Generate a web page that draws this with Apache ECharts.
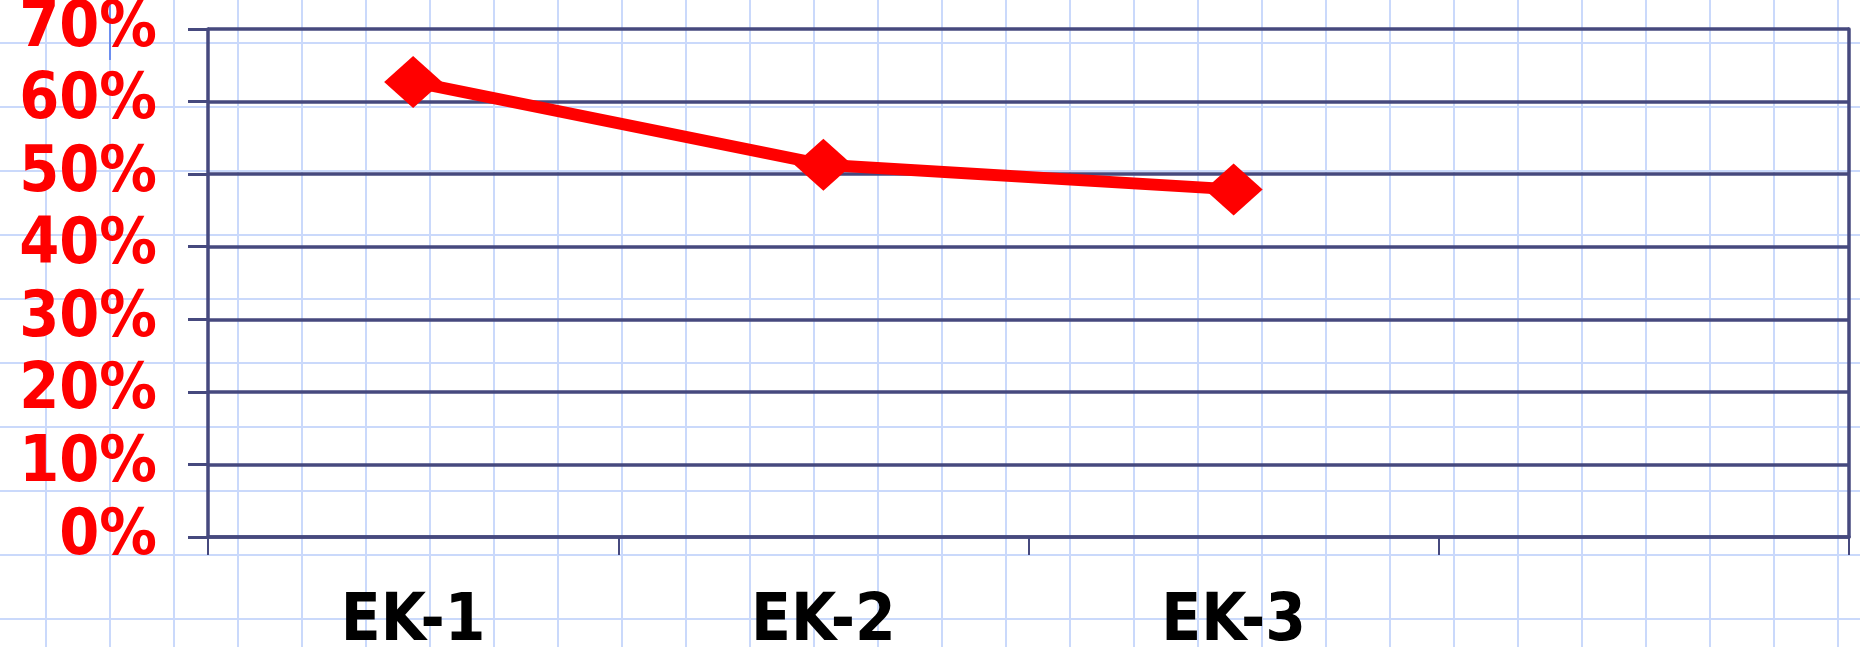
<!DOCTYPE html>
<html>
<head>
<meta charset="utf-8">
<script src="https://cdn.jsdelivr.net/npm/echarts@6/dist/echarts.min.js"></script>
<style>
  html, body { margin: 0; padding: 0; background: #fff; }
  /* graph paper behind the chart */
  #chart {
    width: 1860px; height: 647px;
    background-color: #fff;
    background-image:
      linear-gradient(to right, #cad9fb 2px, transparent 2px),
      linear-gradient(to bottom, #cad9fb 2px, transparent 2px);
    background-size: 64px 64px;
    background-position: 45px 42px;
  }
</style>
</head>
<body>
<div id="chart"></div>
<script>
var categories = ['EK-1', 'EK-2', 'EK-3', ''];
var shareValues = [62.7, 51.3, 47.9];   // %
var yTicks = { min: 0, max: 70, step: 10 };

var navy = '#46497e';
var red = '#ff0000';
var labelFont = '"DejaVu Sans Condensed", "DejaVu Sans", sans-serif';

var myChart = echarts.init(document.getElementById('chart'), null, { renderer: 'canvas' });
var option = {
  backgroundColor: 'transparent',
  animation: false,
  grid: { left: 208, right: 11, top: 29, bottom: 110, containLabel: false, outerBoundsMode: 'none' },
  xAxis: {
    type: 'category',
    data: categories,
    boundaryGap: true,
    axisLine: { lineStyle: { color: navy, width: 3.5 } },
    axisTick: { show: true, length: 18, lineStyle: { color: navy, width: 2 } },
    axisLabel: {
      color: '#000',
      fontFamily: labelFont,
      fontWeight: 'bold',
      fontSize: 65,
      margin: 54,
      interval: 0
    },
    splitLine: { show: false }
  },
  yAxis: [{
    type: 'value',
    min: yTicks.min,
    max: yTicks.max,
    interval: yTicks.step,
    axisLine: { show: true, lineStyle: { color: navy, width: 3.5 } },
    axisTick: { show: true, length: 20, lineStyle: { color: navy, width: 3 } },
    axisLabel: {
      formatter: '{value}%',
      color: red,
      fontFamily: labelFont,
      fontWeight: 'bold',
      fontSize: 64,
      margin: 51
    },
    splitLine: { show: true, lineStyle: { color: navy, width: 3.5 } }
  }, {
    // right frame line
    type: 'value',
    position: 'right',
    min: yTicks.min,
    max: yTicks.max,
    interval: yTicks.step,
    axisLine: { show: true, lineStyle: { color: navy, width: 3.5 } },
    axisTick: { show: false },
    axisLabel: { show: false },
    splitLine: { show: false }
  }],
  graphic: [{
    type: 'line',
    shape: { x1: 110, y1: 0, x2: 110, y2: 60 },
    style: { stroke: '#6d8ff0', lineWidth: 2 }
  }],
  series: [{
    type: 'line',
    data: shareValues,
    symbol: 'diamond',
    symbolSize: [58, 52],
    lineStyle: { color: red, width: 12 },
    itemStyle: { color: red },
    z: 5
  }]
};
myChart.setOption(option);
</script>
</body>
</html>
